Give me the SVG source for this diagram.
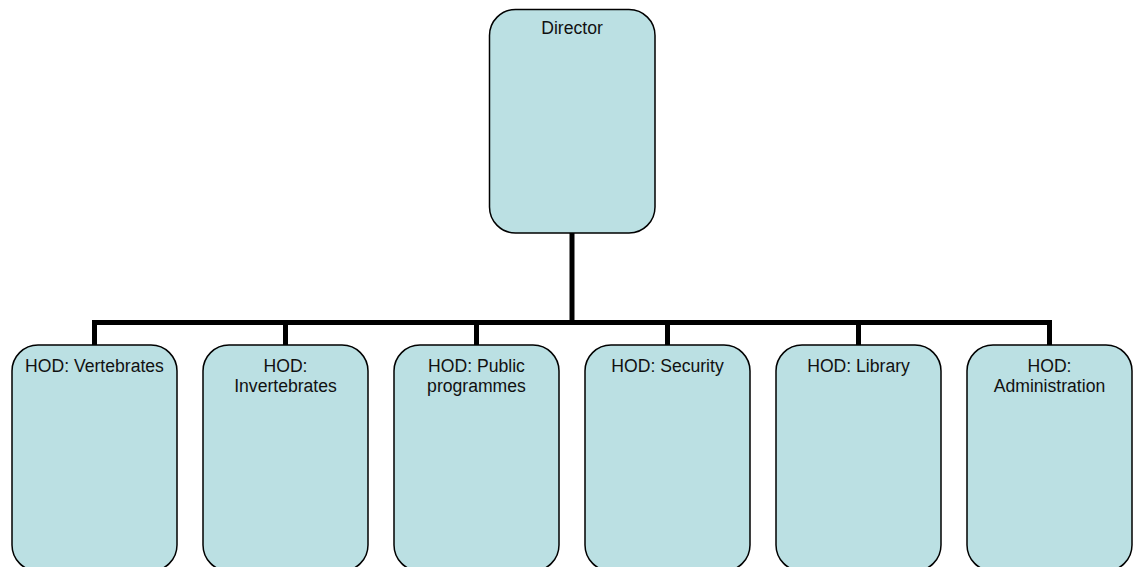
<svg xmlns="http://www.w3.org/2000/svg" width="1135" height="567" viewBox="0 0 1135 567">
  <style>
    .box { fill: #BBE0E3; stroke: #000; stroke-width: 1.5; }
    .lbl { font-family: "Liberation Sans", Arial, sans-serif; font-size: 17.6px; fill: #111; text-anchor: middle; }
    .conn { fill: none; stroke: #000; stroke-width: 5; stroke-linejoin: miter; stroke-linecap: butt; }
  </style>
  <rect width="1135" height="567" fill="#fff"/>

  <!-- connectors -->
  <g id="connectors">
    <path class="conn" d="M572 233 V322.5"/>
    <path class="conn" d="M94.5 345 V322.5 H1049.5 V345"/>
    <path class="conn" d="M285.5 322.5 V345"/>
    <path class="conn" d="M476.5 322.5 V345"/>
    <path class="conn" d="M667.5 322.5 V345"/>
    <path class="conn" d="M858.5 322.5 V345"/>
  </g>

  <g id="director">
    <rect class="box" x="489.5" y="9.5" width="165.5" height="223.5" rx="26" ry="26"/>
    <text class="lbl" x="572" y="34">Director</text>
  </g>

  <g id="hod-vertebrates">
    <rect class="box" x="12" y="345" width="165" height="226" rx="26" ry="26"/>
    <text class="lbl" x="94.5" y="372">HOD: Vertebrates</text>
  </g>

  <g id="hod-invertebrates">
    <rect class="box" x="203" y="345" width="165" height="226" rx="26" ry="26"/>
    <text class="lbl" x="285.5" y="372">HOD:</text>
    <text class="lbl" x="285.5" y="392">Invertebrates</text>
  </g>

  <g id="hod-public-programmes">
    <rect class="box" x="394" y="345" width="165" height="226" rx="26" ry="26"/>
    <text class="lbl" x="476.5" y="372">HOD: Public</text>
    <text class="lbl" x="476.5" y="392">programmes</text>
  </g>

  <g id="hod-security">
    <rect class="box" x="585" y="345" width="165" height="226" rx="26" ry="26"/>
    <text class="lbl" x="667.5" y="372">HOD: Security</text>
  </g>

  <g id="hod-library">
    <rect class="box" x="776" y="345" width="165" height="226" rx="26" ry="26"/>
    <text class="lbl" x="858.5" y="372">HOD: Library</text>
  </g>

  <g id="hod-administration">
    <rect class="box" x="967" y="345" width="165" height="226" rx="26" ry="26"/>
    <text class="lbl" x="1049.5" y="372">HOD:</text>
    <text class="lbl" x="1049.5" y="392">Administration</text>
  </g>
</svg>
